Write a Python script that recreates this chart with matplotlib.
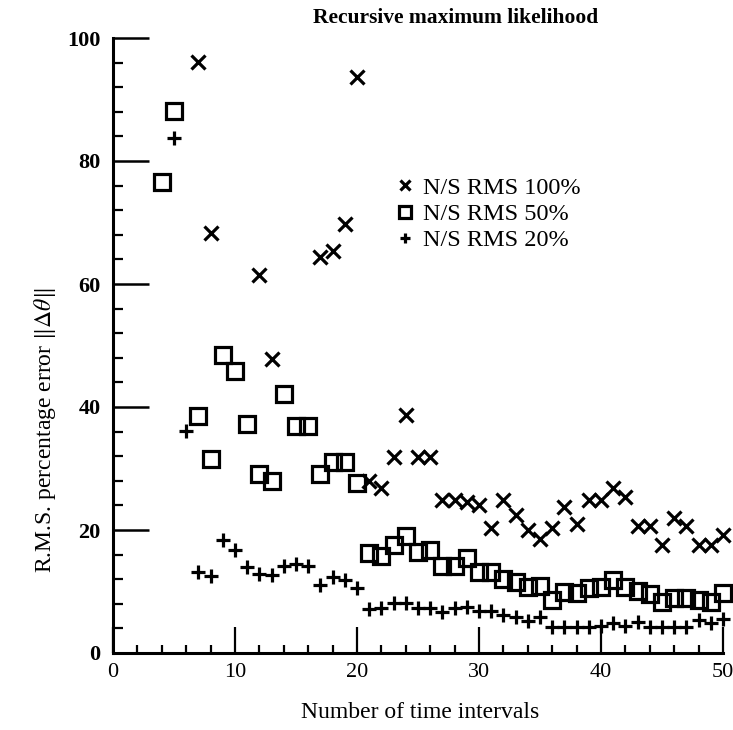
import numpy as np
import matplotlib
matplotlib.use("Agg")
import matplotlib.pyplot as plt

plt.rcParams['font.family'] = ['Liberation Serif', 'DejaVu Serif']
plt.rcParams['mathtext.fontset'] = 'stix'

# N/S RMS 100%  (x markers)
x100 = [7, 8, 12, 13, 17, 18, 19, 20, 21, 22, 23, 24, 25, 26, 27, 28, 29, 30,
        31, 32, 33, 34, 35, 36, 37, 38, 39, 40, 41, 42, 43, 44, 45, 46, 47,
        48, 49, 50]
y100 = [96.1, 68.3, 61.5, 47.8, 64.4, 65.3, 69.8, 93.6, 27.9, 26.8, 31.8,
        38.7, 31.8, 31.8, 24.9, 24.9, 24.6, 24.1, 20.3, 24.9, 22.4, 20.0,
        18.6, 20.3, 23.7, 21.0, 24.9, 24.9, 26.9, 25.4, 20.6, 20.6, 17.6,
        21.9, 20.6, 17.6, 17.6, 19.2]

# N/S RMS 50%  (square markers)
x50 = [4, 5, 7, 8, 9, 10, 11, 12, 13, 14, 15, 16, 17, 18, 19, 20, 21, 22, 23,
       24, 25, 26, 27, 28, 29, 30, 31, 32, 33, 34, 35, 36, 37, 38, 39, 40, 41,
       42, 43, 44, 45, 46, 47, 48, 49, 50]
y50 = [76.6, 88.2, 38.5, 31.5, 48.5, 45.9, 37.3, 29.1, 27.9, 42.1, 36.9,
       36.9, 29.1, 31.1, 31.0, 27.7, 16.2, 15.7, 17.6, 19.0, 16.5, 16.8,
       14.1, 14.1, 15.4, 13.1, 13.1, 12.1, 11.6, 10.7, 10.9, 8.6, 10.0, 9.7,
       10.5, 10.8, 11.9, 10.8, 10.1, 9.6, 8.3, 8.9, 8.9, 8.6, 8.3, 9.7]

# N/S RMS 20%  (plus markers)
x20 = [5, 6, 7, 8, 9, 10, 11, 12, 13, 14, 15, 16, 17, 18, 19, 20, 21, 22, 23,
       24, 25, 26, 27, 28, 29, 30, 31, 32, 33, 34, 35, 36, 37, 38, 39, 40, 41,
       42, 43, 44, 45, 46, 47, 48, 49, 50]
y20 = [83.7, 36.1, 13.2, 12.5, 18.4, 16.7, 14.0, 12.8, 12.7, 14.1, 14.5,
       14.1, 11.1, 12.4, 11.8, 10.6, 7.1, 7.3, 8.1, 8.1, 7.3, 7.3, 6.7, 7.3,
       7.5, 6.9, 6.9, 6.2, 5.9, 5.2, 5.9, 4.3, 4.3, 4.3, 4.3, 4.4, 4.8, 4.4,
       5.1, 4.3, 4.2, 4.2, 4.2, 5.4, 4.8, 5.6]

labels = ['N/S RMS 100%', 'N/S RMS 50%', 'N/S RMS 20%']

fig = plt.figure(figsize=(7.33, 7.30), dpi=100)
ax = fig.add_axes([113/733, 1 - 653/730, 610/733, 615/730])

h1, = ax.plot(x100, y100, ls='none', marker='x', ms=9.5, mew=2.3, color='black',
              label=labels[0], clip_on=False)
h2, = ax.plot(x50, y50, ls='none', marker='s', ms=12, mew=2.3, mfc='none', color='black',
              label=labels[1], clip_on=False)
h3, = ax.plot(x20, y20, ls='none', marker='+', ms=10, mew=2.3, color='black',
              label=labels[2], clip_on=False)

ax.set_xlim(0, 50)
ax.set_ylim(0, 100)
ax.set_xticks(np.arange(0, 51, 10))
ax.set_xticks(np.arange(0, 51, 2), minor=True)
ax.set_yticks(np.arange(0, 101, 20))
ax.set_yticks(np.arange(0, 101, 4), minor=True)

for s in ['top', 'right']:
    ax.spines[s].set_visible(False)
for s in ['left', 'bottom']:
    ax.spines[s].set_linewidth(2.2)

ax.tick_params(axis='x', which='major', direction='in', length=19, width=1.6, pad=7, labelsize=16)
ax.tick_params(axis='x', which='minor', direction='in', length=6, width=1.6)
ax.tick_params(axis='y', which='major', direction='in', length=26, width=1.8, pad=9, labelsize=16)
ax.tick_params(axis='y', which='minor', direction='in', length=7, width=1.6)
for t in ax.get_yticklabels():
    t.set_fontweight('bold')

fig.text(456/733, 1 - 18/730, 'Recursive maximum likelihood', ha='center', va='center',
         fontsize=15.5, fontweight='bold')
fig.text(420/733, 1 - 712/730, 'Number of time intervals', ha='center', va='center', fontsize=17)
fig.text(45/733, 1 - 430/730, r'R.M.S. percentage error $\|\mathit{\Delta\theta}\|$',
         rotation=90, ha='center', va='center', fontsize=17)

ax.legend(handles=[h1, h2, h3], loc='upper left', bbox_to_anchor=(0.449, 0.79),
          frameon=False, fontsize=17.5, markerscale=0.75, handlelength=0.7,
          handletextpad=0.4, labelspacing=0.17, borderaxespad=0)

fig.savefig('out.png', dpi=100)
